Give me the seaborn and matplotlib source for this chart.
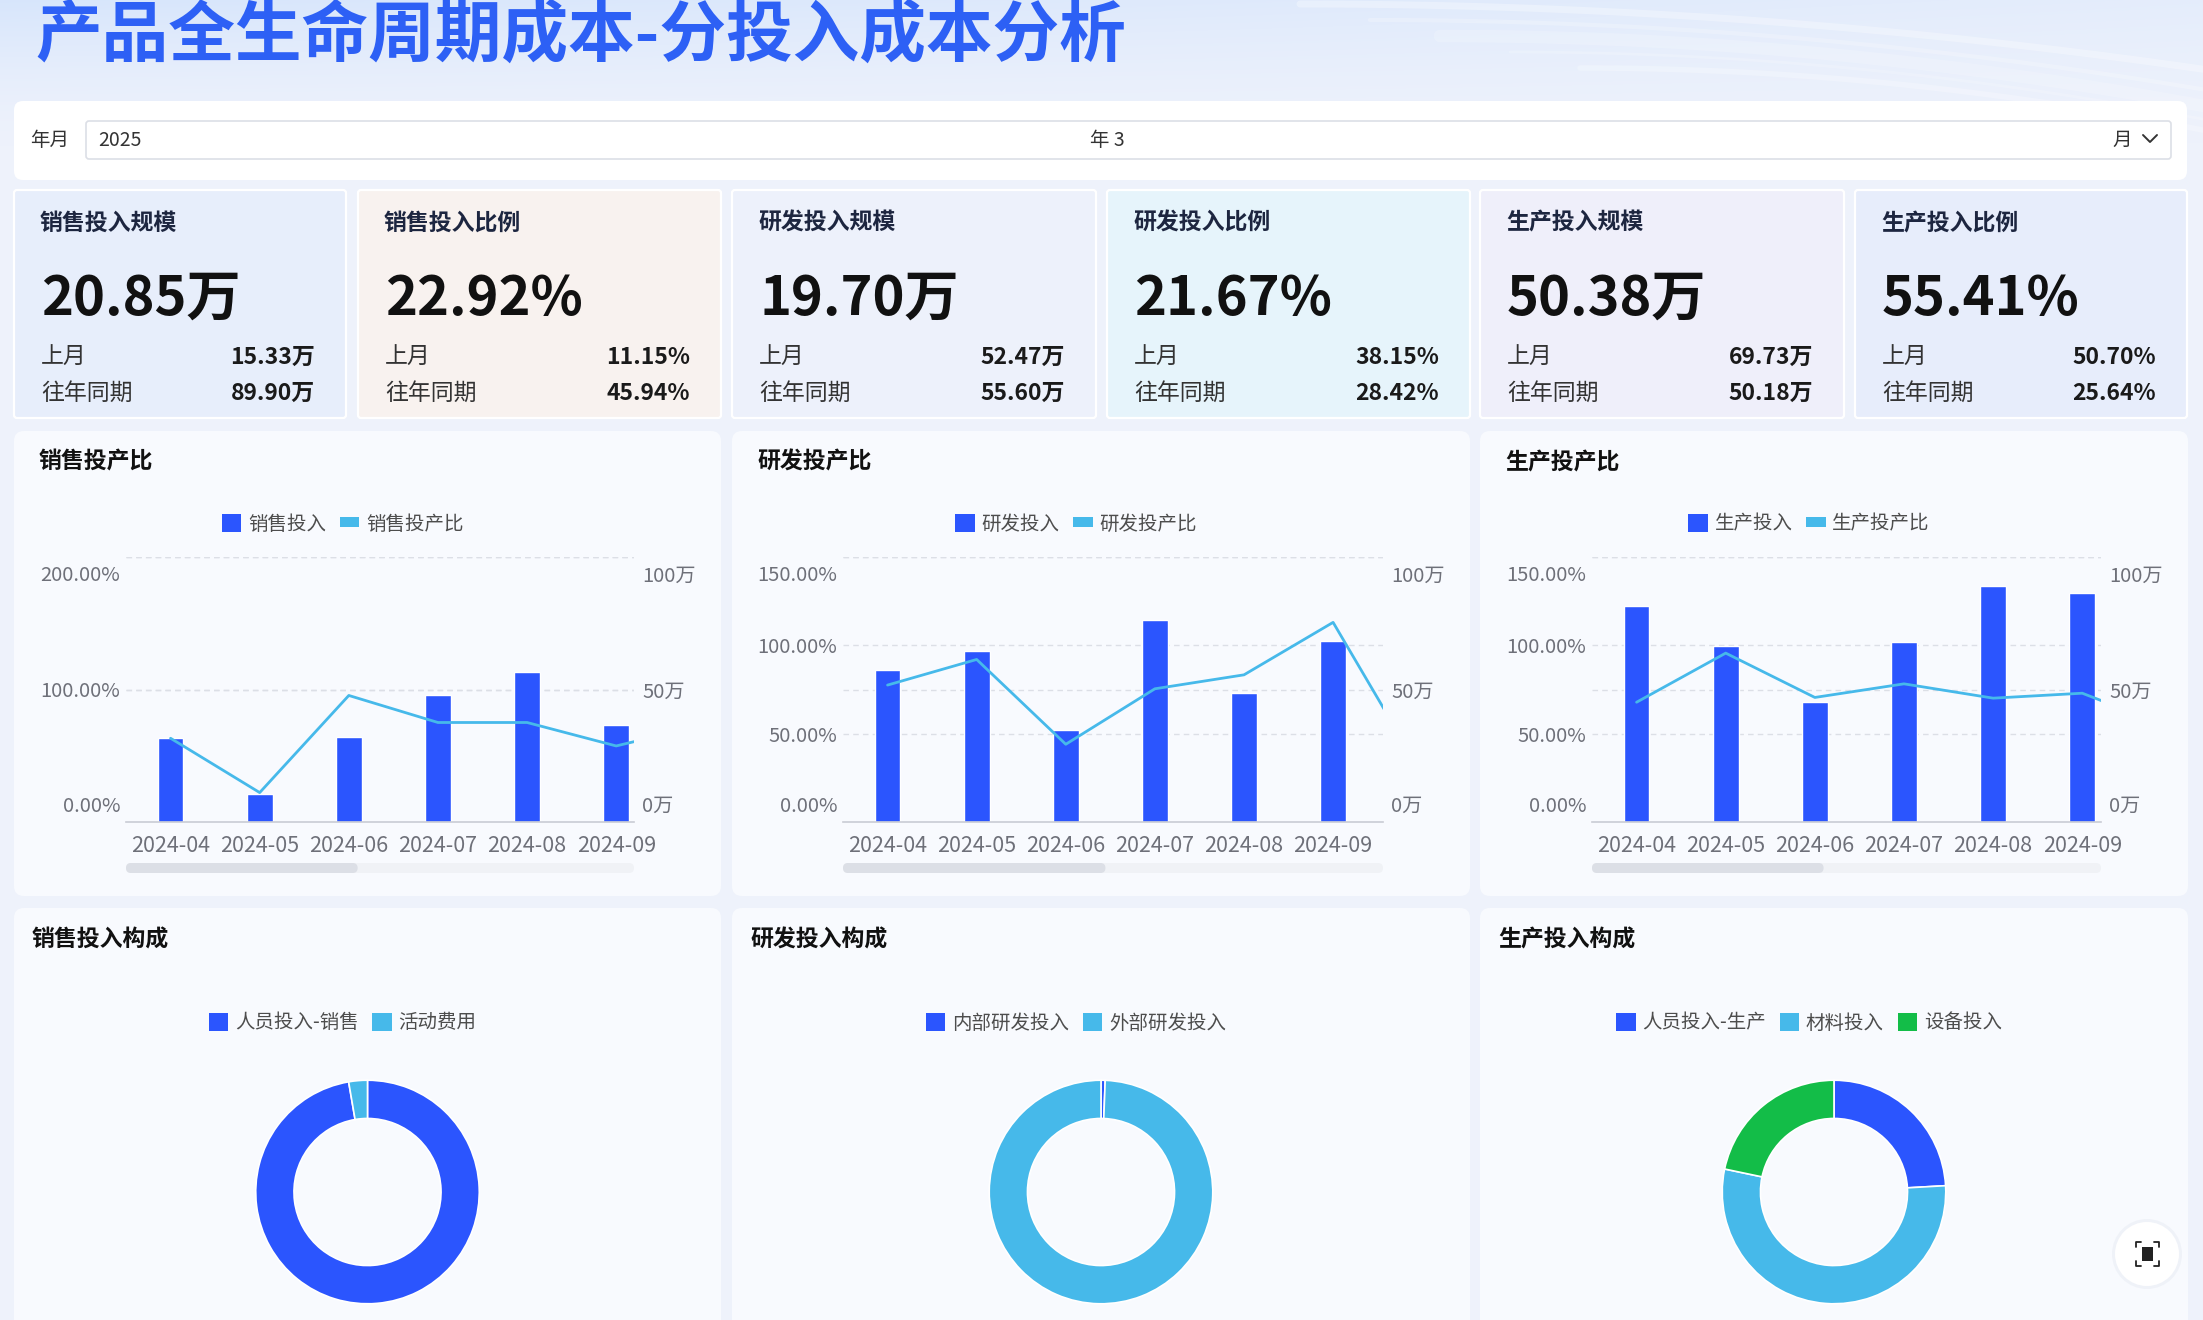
import numpy as np
import pandas as pd
import matplotlib
matplotlib.use("Agg")
import matplotlib.pyplot as plt
from matplotlib.patches import FancyBboxPatch, Rectangle, Circle, Patch
from matplotlib.lines import Line2D
from matplotlib.transforms import ScaledTranslation
import seaborn as sns

# ---------------- data ----------------
page_title = "产品全生命周期成本-分投入成本分析"
filter_label = "年月"
filter_year = "2025"
filter_month = "年 3"

kpi_titles = ["销售投入规模", "销售投入比例", "研发投入规模", "研发投入比例", "生产投入规模", "生产投入比例"]
kpi_values = ["20.85万", "22.92%", "19.70万", "21.67%", "50.38万", "55.41%"]
kpi_last = ["15.33万", "11.15%", "52.47万", "38.15%", "69.73万", "50.70%"]
kpi_yoy = ["89.90万", "45.94%", "55.60万", "28.42%", "50.18万", "25.64%"]

months = ["2024-04", "2024-05", "2024-06", "2024-07", "2024-08", "2024-09"]
# the ratio line continues to a 7th month that is cut off by the data-zoom window
sales_invest = [31.6, 10.5, 32.2, 47.9, 56.5, 36.6]          # 万
sales_ratio = [63.2, 22.2, 95.5, 75.1, 75.1, 57.4, 73.5]      # %
rd_invest = [57.3, 64.7, 34.6, 76.4, 48.5, 68.4]
rd_ratio = [77.5, 92.0, 44.0, 75.4, 83.3, 113.0, 27.2]
prod_invest = [81.6, 66.6, 45.3, 67.9, 89.0, 86.5]
prod_ratio = [67.8, 95.6, 70.5, 78.2, 70.1, 72.9, 53.3]

combo_titles = ["销售投产比", "研发投产比", "生产投产比"]
combo_series = [["销售投入", "销售投产比"], ["研发投入", "研发投产比"], ["生产投入", "生产投产比"]]
left_ticks_1 = [0, 100, 200]
left_ticks_23 = [0, 50, 100, 150]
right_ticks = [0, 50, 100]

pie_titles = ["销售投入构成", "研发投入构成", "生产投入构成"]
sales_parts = ["人员投入-销售", "活动费用"]
sales_share = [97.3, 2.7]
rd_parts = ["内部研发投入", "外部研发投入"]
rd_share = [0.6, 99.4]
prod_parts = ["人员投入-生产", "材料投入", "设备投入"]
prod_share = [24.1, 54.2, 21.7]

# ---------------- style ----------------
BLUE = "#2b55fe"
LBLUE = "#46b9ea"
GREEN = "#13bd48"
PAGE_BG = "#eef2fb"
CARD_BG = "#f8fafe"
AXIS_TXT = "#6e7079"

sns.set_theme(style="white")
plt.rcParams["font.family"] = ["Noto Sans CJK SC", "DejaVu Sans"]
plt.rcParams["axes.unicode_minus"] = False

W, H = 2203, 1320
fig = plt.figure(figsize=(W / 100, H / 100), dpi=100)
fig.patch.set_facecolor(PAGE_BG)

bg = fig.add_axes([0, 0, 1, 1], zorder=0)
bg.set_xlim(0, W)
bg.set_ylim(H, 0)
bg.axis("off")


def rbox(x0, y0, x1, y1, fc, r=8, ec="none", lw=0, z=1, alpha=1):
    p = FancyBboxPatch((x0 + r, y0 + r), (x1 - x0) - 2 * r, (y1 - y0) - 2 * r,
                       boxstyle=f"round,pad={r}", fc=fc, ec=ec, lw=lw, zorder=z, alpha=alpha)
    bg.add_patch(p)


# top gradient
gh = 150
yy = np.linspace(0, 1, gh)[:, None]
xx = np.linspace(0, 1, 400)[None, :]
grad = np.zeros((gh, 400, 4))
grad[..., 0] = 0.84
grad[..., 1] = 0.90
grad[..., 2] = 0.99
grad[..., 3] = np.clip((1 - yy) ** 1.5 * (0.95 - 0.55 * xx), 0, 1)
bg.imshow(grad, extent=(0, W, gh, 0), aspect="auto", zorder=0.1, interpolation="bilinear")
# soft white streaks top-right
for k, (a, lw) in enumerate([(0.30, 5), (0.22, 3), (0.18, 9), (0.18, 2), (0.25, 4)]):
    xs = np.linspace(1300 + 70 * k, W, 80)
    ys = 4 + 16 * k + 0.00008 * (xs - 1300 - 70 * k) ** 2 * (1 + 0.25 * k)
    bg.plot(xs, ys, color="white", lw=lw, alpha=a, zorder=0.2, solid_capstyle="round")

bg.text(35, 36, page_title, fontsize=48, fontweight="bold", color="#2d60f5",
        va="center", ha="left", zorder=3)

# filter panel
rbox(14, 101, 2187, 180, "white", r=9, z=1)
rbox(86, 121, 2171, 159, "white", r=3, ec="#dcdfe6", lw=1.2, z=1.5)
bg.text(30, 140, filter_label, fontsize=14, color="#333333", va="center", zorder=3)
bg.text(98, 140, filter_year, fontsize=14, color="#333333", va="center", zorder=3)
bg.text(1090, 140, filter_month, fontsize=14, color="#333333", va="center", zorder=3)
bg.text(2112, 140, "月", fontsize=14, color="#333333", va="center", zorder=3)
bg.plot([2143, 2150, 2157], [135, 142, 135], color="#333333", lw=1.4, zorder=3)

# KPI cards
kpi_x = [(14, 346), (358, 721), (732, 1096), (1107, 1470), (1480, 1844), (1855, 2187)]
kpi_bg = ["#e7eefb", "#f8f2ef", "#edf1fb", "#e6f4fb", "#efeffa", "#e7edfb"]
for (x0, x1), fc, t, v, l, yv in zip(kpi_x, kpi_bg, kpi_titles, kpi_values, kpi_last, kpi_yoy):
    rbox(x0, 190, x1, 418, fc, r=3, ec="white", lw=1.6, z=1)
    bg.text(x0 + 26, 223, t, fontsize=16.5, fontweight="bold", color="#1d2640", va="center", zorder=3)
    bg.text(x0 + 27, 315, v, fontsize=39, fontweight="bold", color="#111111", va="baseline", zorder=3)
    bg.text(x0 + 27, 357, "上月", fontsize=16.5, color="#333333", va="center", zorder=3)
    bg.text(x0 + 27, 393, "往年同期", fontsize=16.5, color="#333333", va="center", zorder=3)
    bg.text(x1 - 31, 357, l, fontsize=16.5, fontweight="bold", color="#1a1a1a", va="center", ha="right", zorder=3)
    bg.text(x1 - 31, 393, yv, fontsize=16.5, fontweight="bold", color="#1a1a1a", va="center", ha="right", zorder=3)

card_x = [(14, 721), (732, 1470), (1480, 2188)]
for (x0, x1) in card_x:
    rbox(x0, 431, x1, 896, CARD_BG, r=10, z=1)
    rbox(x0, 908, x1, 1345, CARD_BG, r=10, z=1)


def shift(lbl, dy_px):
    lbl.set_transform(lbl.get_transform() + ScaledTranslation(0, dy_px / 100, fig.dpi_scale_trans))


def combo(idx, rect, invest, ratio, left_max, left_ticks, xright, thumb_frac):
    x0, y0, x1, y1 = rect
    cx0, cx1 = card_x[idx]
    ccx = (cx0 + cx1) / 2
    bg.text(cx0 + 25, 462, combo_titles[idx], fontsize=16.5, fontweight="bold",
            color="#111111", va="center", zorder=3)

    ax = fig.add_axes([x0 / W, 1 - y1 / H, (x1 - x0) / W, (y1 - y0) / H], zorder=2)
    ax.patch.set_visible(False)
    df_b = pd.DataFrame({"month": months, "invest": invest})
    sns.barplot(data=df_b, x="month", y="invest", ax=ax, color=BLUE, saturation=1,
                width=0.29, zorder=2)
    ax2 = ax.twinx()
    df_l = pd.DataFrame({"pos": np.arange(len(ratio)), "ratio": ratio})
    sns.lineplot(data=df_l, x="pos", y="ratio", ax=ax2, color=LBLUE, lw=2.0, legend=False)

    ax.set_ylim(0, 100)
    ax2.set_ylim(0, left_max)
    ax.set_xlim(-0.5, xright)

    # gridlines (behind bars)
    for v in right_ticks[1:]:
        ax.axhline(v, color="#dcdfe6", lw=1, ls=(0, (4, 3)), zorder=0.5)
    for v in left_ticks[1:]:
        ax.axhline(v / left_max * 100, color="#dcdfe6", lw=1, ls=(0, (4, 3)), zorder=0.5)

    for s in ax.spines.values():
        s.set_visible(False)
    for s in ax2.spines.values():
        s.set_visible(False)
    ax.spines["bottom"].set_visible(True)
    ax.spines["bottom"].set_color("#c9ccd4")
    ax.spines["bottom"].set_linewidth(1.2)

    ax.set_xlabel("")
    ax.set_ylabel("")
    ax2.set_xlabel("")
    ax2.set_ylabel("")
    ax.set_xticks(range(len(months)))
    ax.set_xticklabels(months)
    ax.tick_params(axis="x", length=0, pad=9, labelsize=15.5, labelcolor=AXIS_TXT)

    # bars (万) on right axis, ratio (%) on left axis
    ax.yaxis.tick_right()
    ax.set_yticks(right_ticks)
    ax.set_yticklabels([f"{v}万" for v in right_ticks])
    ax.tick_params(axis="y", length=0, pad=5.8, labelsize=14.5, labelcolor=AXIS_TXT)
    ax2.yaxis.tick_left()
    ax2.set_yticks(left_ticks)
    ax2.set_yticklabels([f"{v:.2f}%" for v in left_ticks])
    ax2.tick_params(axis="y", length=0, pad=4.3, labelsize=14.5, labelcolor=AXIS_TXT)

    for a in (ax, ax2):
        labs = a.get_yticklabels()
        shift(labs[0], 18.5)
        shift(labs[-1], -16.5)

    # legend
    handles = [Patch(fc=BLUE, ec="none"),
               Line2D([0], [0], color=LBLUE, lw=7.2, solid_capstyle="butt")]
    fig.legend(handles, combo_series[idx], loc="center", bbox_to_anchor=((ccx - 25) / W, 1 - 524 / H),
               ncol=2, frameon=False, fontsize=14, handlelength=1.0, handleheight=1.0,
               handletextpad=0.35, columnspacing=0.7, labelcolor="#4d4d4d")

    # data-zoom slider
    rbox(x0, 863, x1, 873, "#f0f2f6", r=5, z=1.5)
    rbox(x0, 863, x0 + thumb_frac * (x1 - x0), 873, "#dcdfe6", r=5, z=1.6)


combo(0, (126, 557, 634, 822), sales_invest, sales_ratio, 200, left_ticks_1, 5.2, 0.456)
combo(1, (843, 557, 1383, 822), rd_invest, rd_ratio, 150, left_ticks_23, 5.56, 0.486)
combo(2, (1592, 557, 2101, 822), prod_invest, prod_ratio, 150, left_ticks_23, 5.21, 0.455)


def donut(idx, parts, share, colors):
    cx0, cx1 = card_x[idx]
    ccx = (cx0 + cx1) / 2
    bg.text(cx0 + 18, 940, pie_titles[idx], fontsize=16.5, fontweight="bold",
            color="#111111", va="center", zorder=3)
    r, cy = 114, 1192
    ax = fig.add_axes([(ccx - r) / W, 1 - (cy + r) / H, 2 * r / W, 2 * r / H], zorder=2)
    ax.pie(share, colors=colors, startangle=90, counterclock=False, radius=1,
           wedgeprops=dict(width=0.342, edgecolor="white", linewidth=1.2))
    ax.set_xlim(-1.02, 1.02)
    ax.set_ylim(-1.02, 1.02)
    ax.set_aspect("equal")
    ax.axis("off")
    handles = [Patch(fc=c, ec="none") for c in colors]
    fig.legend(handles, parts, loc="center", bbox_to_anchor=((ccx - 25) / W, 1 - 1023 / H),
               ncol=len(parts), frameon=False, fontsize=14, handlelength=1.0, handleheight=1.0,
               handletextpad=0.35, columnspacing=0.7, labelcolor="#4d4d4d")


donut(0, sales_parts, sales_share, [BLUE, LBLUE])
donut(1, rd_parts, rd_share, [BLUE, LBLUE])
donut(2, prod_parts, prod_share, [BLUE, LBLUE, GREEN])

# full-screen button
bg.add_patch(Circle((2147, 1254), 35, fc="#dfe4ee", ec="none", alpha=0.35, zorder=4))
bg.add_patch(Circle((2147, 1254), 32, fc="white", ec="none", zorder=4.1))
bg.add_patch(Rectangle((2142, 1247), 11, 14, fc="#222222", ec="none", zorder=4.2))
for (px, py, dx, dy) in [(2136, 1242, 1, 1), (2159, 1242, -1, 1), (2136, 1266, 1, -1), (2159, 1266, -1, -1)]:
    bg.plot([px, px, px + 5 * dx], [py + 5 * dy, py, py], color="#222222", lw=1.3, zorder=4.2)

fig.savefig("out.png", dpi=100, facecolor=fig.get_facecolor())
